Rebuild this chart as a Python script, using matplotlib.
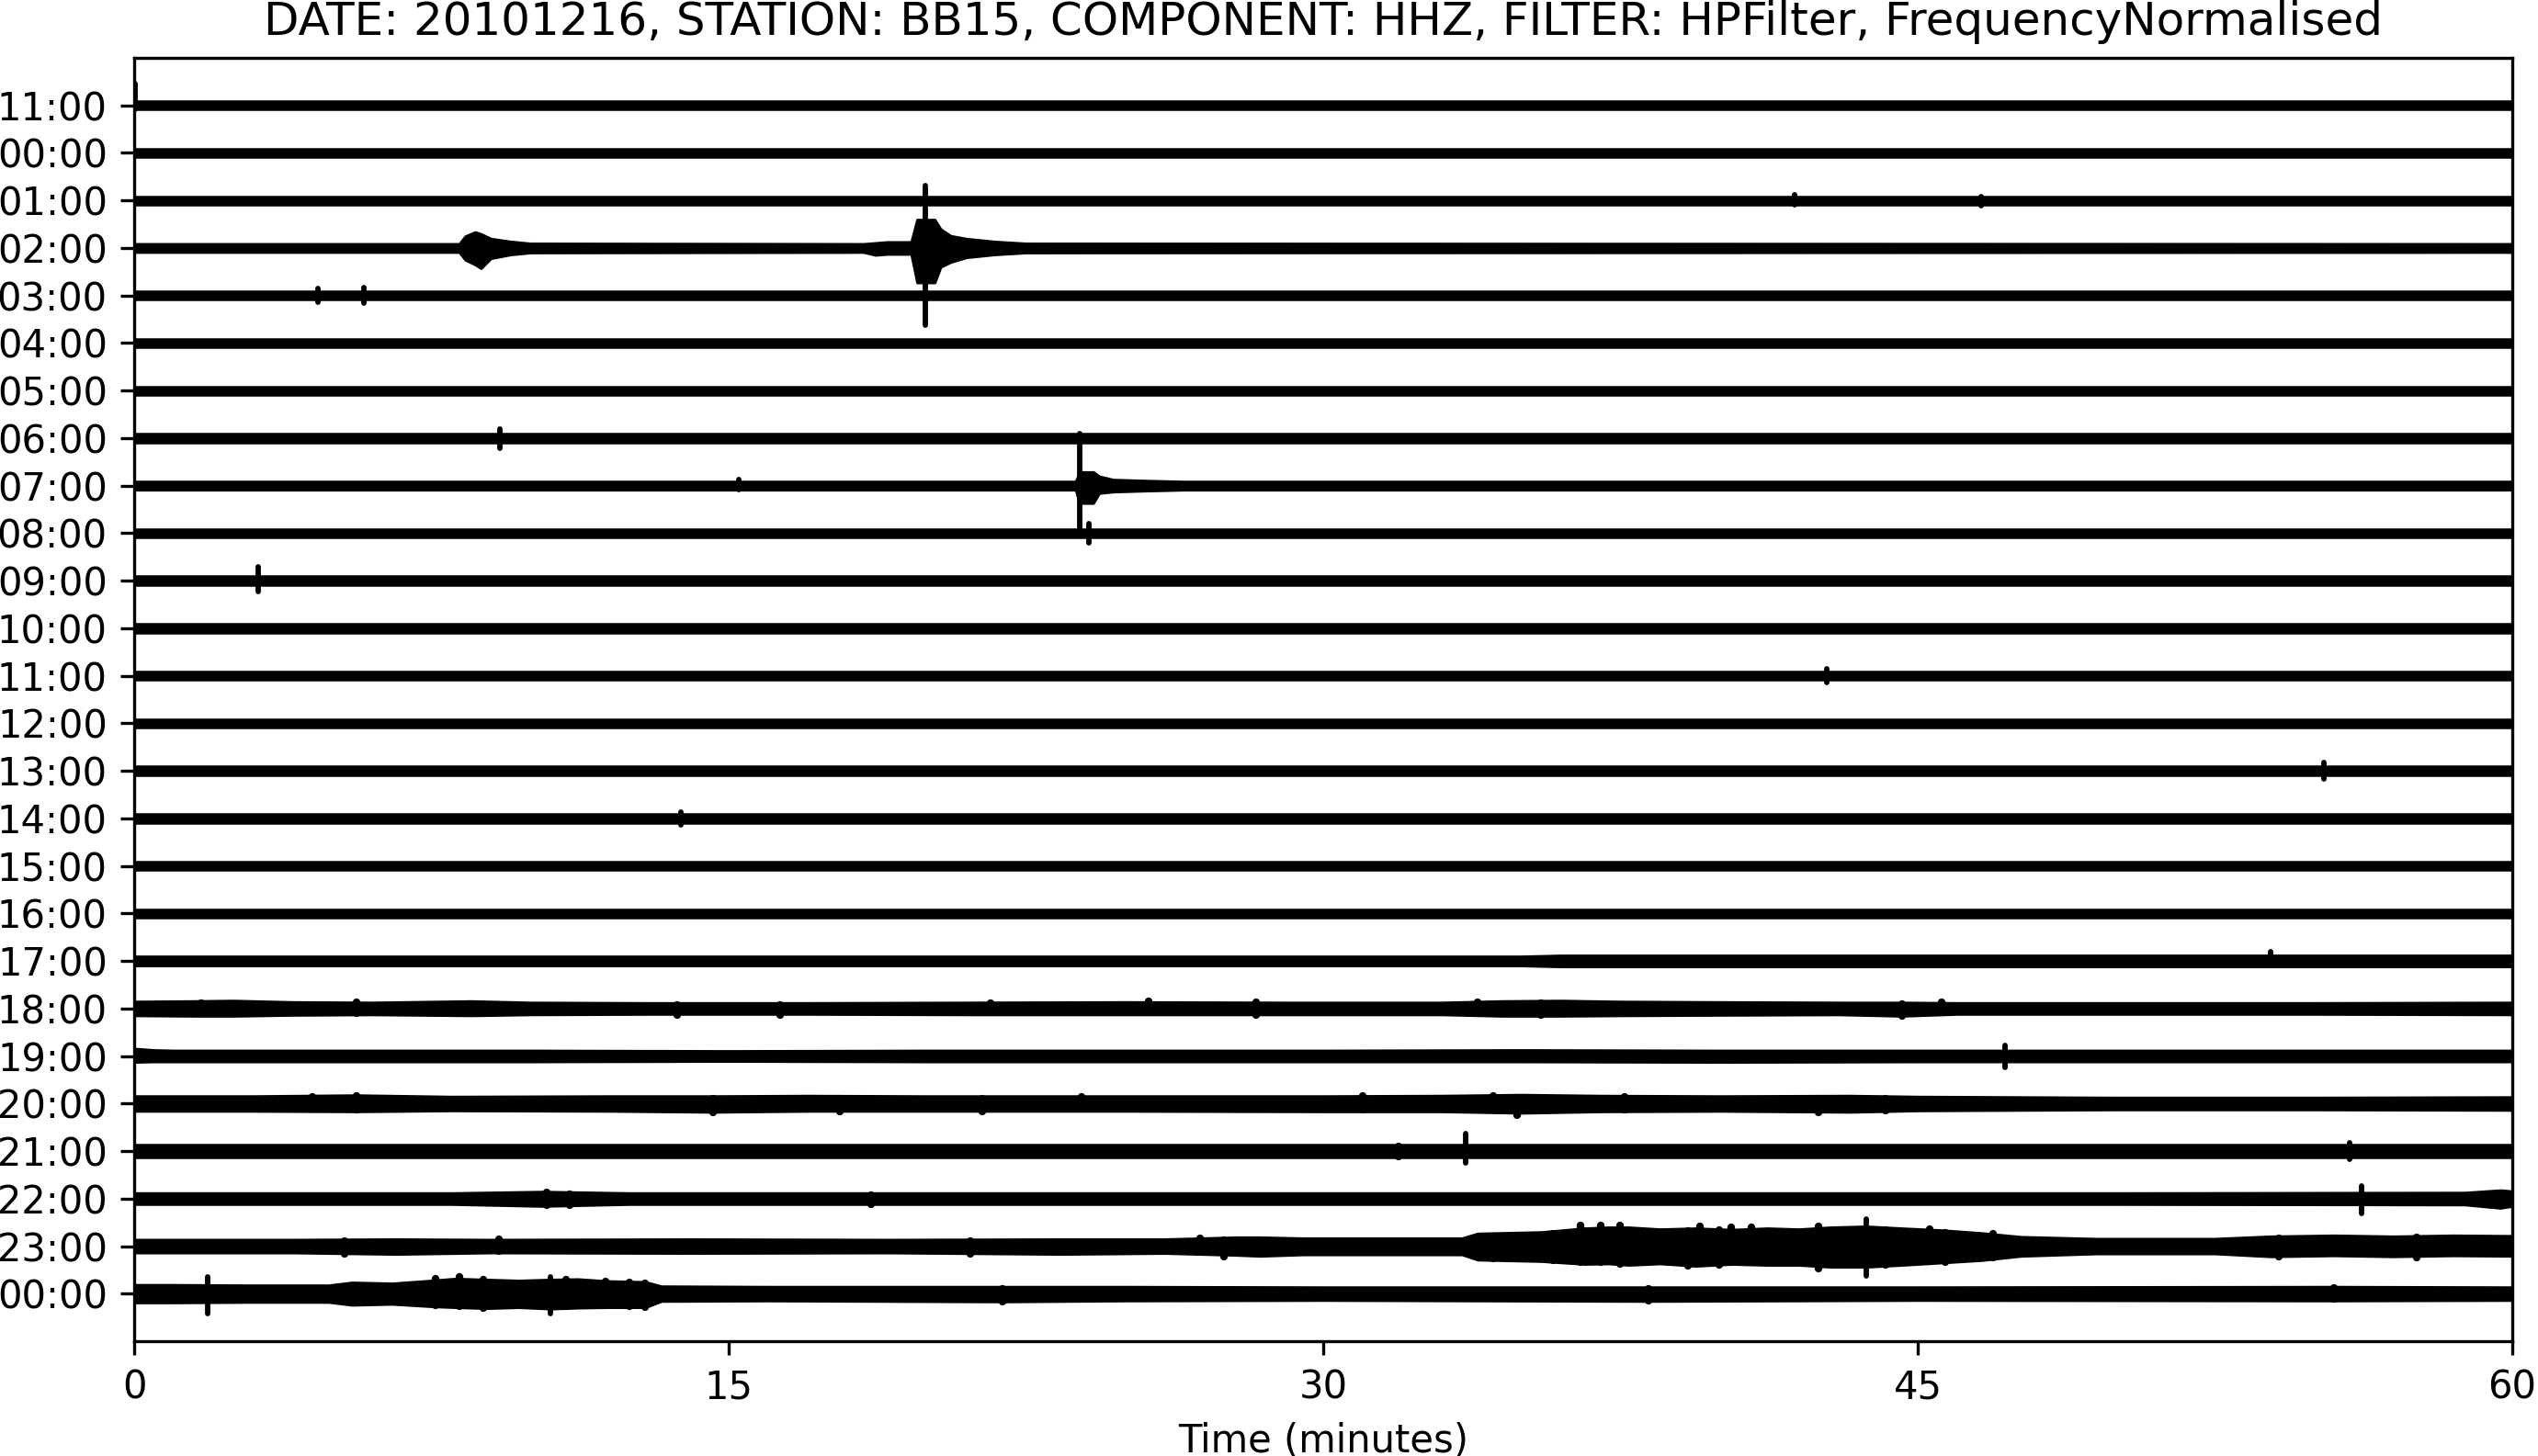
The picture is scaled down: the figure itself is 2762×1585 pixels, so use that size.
import matplotlib
matplotlib.use("Agg")
import matplotlib.pyplot as plt

title = "DATE: 20101216, STATION: BB15, COMPONENT: HHZ, FILTER: HPFilter, FrequencyNormalised"
hour_labels = ['11:00'] + ['%02d:00' % h for h in range(24)] + ['00:00']
x_ticks = [0, 15, 30, 45, 60]

# half width of a quiet trace (in row units)
quiet_hw = 0.09

# envelope knots for the rows that are not quiet: row -> (minutes, up, down)
env = {
    3: ([0, 8.2, 8.35, 8.6, 8.75, 9.0, 9.5, 10.0, 18.4, 18.7, 19.0, 19.6, 19.75, 20.2, 20.35, 20.6, 21.0, 21.7, 22.5, 60],
        [0.09, 0.09, 0.25, 0.34, 0.30, 0.20, 0.14, 0.10, 0.09, 0.11, 0.13, 0.13, 0.60, 0.60, 0.40, 0.26, 0.20, 0.14, 0.10, 0.09],
        [0.09, 0.09, 0.25, 0.35, 0.43, 0.22, 0.14, 0.10, 0.09, 0.15, 0.13, 0.13, 0.73, 0.73, 0.40, 0.30, 0.20, 0.14, 0.10, 0.09]),
    8: ([0, 23.75, 23.85, 24.2, 24.35, 24.7, 25.5, 26.5, 60],
        [0.09, 0.09, 0.29, 0.29, 0.20, 0.13, 0.11, 0.09, 0.09],
        [0.09, 0.09, 0.37, 0.37, 0.16, 0.13, 0.11, 0.09, 0.09]),
    18: ([0, 35, 36, 60],
         [0.10, 0.10, 0.12, 0.12],
         [0.10, 0.10, 0.12, 0.12]),
    19: ([0, 1.5, 2.5, 4, 6, 8.5, 10, 13, 17, 21, 25, 29, 33, 34.5, 36, 37.5, 40, 43, 44.6, 46, 50, 55, 60],
         [0.15, 0.16, 0.17, 0.14, 0.13, 0.16, 0.13, 0.12, 0.12, 0.13, 0.14, 0.13, 0.13, 0.16, 0.17, 0.15, 0.14, 0.13, 0.13, 0.12, 0.12, 0.12, 0.13],
         [0.15, 0.16, 0.16, 0.14, 0.13, 0.15, 0.13, 0.12, 0.12, 0.13, 0.13, 0.13, 0.13, 0.16, 0.16, 0.15, 0.14, 0.13, 0.16, 0.12, 0.12, 0.12, 0.13]),
    20: ([0, 0.5, 1, 5, 10, 15, 20, 25, 30, 35, 40, 45, 50, 55, 60],
         [0.16, 0.13, 0.12, 0.12, 0.12, 0.11, 0.12, 0.12, 0.12, 0.13, 0.12, 0.12, 0.12, 0.12, 0.12],
         [0.13, 0.12, 0.12, 0.12, 0.12, 0.11, 0.12, 0.12, 0.12, 0.12, 0.13, 0.12, 0.12, 0.12, 0.12]),
    21: ([0, 3, 5.6, 8, 12, 14.6, 17, 20, 25, 30, 33, 35, 37, 40, 43.3, 45, 50, 55, 60],
         [0.16, 0.16, 0.18, 0.15, 0.16, 0.16, 0.17, 0.16, 0.16, 0.16, 0.17, 0.19, 0.17, 0.16, 0.17, 0.15, 0.13, 0.13, 0.14],
         [0.16, 0.16, 0.17, 0.15, 0.16, 0.18, 0.16, 0.16, 0.16, 0.17, 0.17, 0.20, 0.17, 0.16, 0.18, 0.15, 0.13, 0.13, 0.14]),
    22: ([0, 10, 20, 30, 40, 50, 60],
         [0.13, 0.13, 0.13, 0.13, 0.13, 0.13, 0.13],
         [0.13, 0.13, 0.13, 0.13, 0.13, 0.13, 0.13]),
    23: ([0, 8, 10.3, 12.5, 20, 30, 40, 50, 58.8, 59.7, 60],
         [0.12, 0.12, 0.15, 0.12, 0.12, 0.12, 0.12, 0.12, 0.13, 0.18, 0.16],
         [0.12, 0.12, 0.16, 0.12, 0.12, 0.12, 0.12, 0.12, 0.13, 0.20, 0.16]),
    24: ([0, 4, 6.6, 9, 14, 19, 23.4, 26, 27.8, 28.4, 29.5, 33.5, 33.9, 35.5, 36.6, 37.2, 37.7, 38.5, 39.4, 40.3, 41.2, 42.0, 42.8, 43.7, 44.6, 45.6, 46.6, 47.6, 49.5, 52.5, 53.9, 55.5, 57, 58.5, 60],
         [0.14, 0.14, 0.15, 0.14, 0.15, 0.14, 0.15, 0.15, 0.19, 0.19, 0.17, 0.17, 0.27, 0.30, 0.38, 0.40, 0.40, 0.36, 0.38, 0.35, 0.38, 0.36, 0.40, 0.42, 0.38, 0.34, 0.28, 0.20, 0.16, 0.16, 0.21, 0.23, 0.21, 0.23, 0.22],
         [0.14, 0.14, 0.17, 0.14, 0.15, 0.14, 0.17, 0.15, 0.19, 0.21, 0.18, 0.18, 0.29, 0.32, 0.38, 0.37, 0.40, 0.37, 0.42, 0.38, 0.40, 0.40, 0.44, 0.44, 0.40, 0.35, 0.30, 0.21, 0.16, 0.16, 0.22, 0.20, 0.22, 0.20, 0.21]),
    25: ([0, 1, 2.9, 4.9, 5.5, 6.5, 7.5, 8.1, 8.9, 9.7, 10.5, 11.2, 11.9, 12.9, 13.3, 16, 21.9, 25, 30, 38.2, 45, 55.5, 60],
         [0.19, 0.19, 0.18, 0.18, 0.24, 0.22, 0.28, 0.32, 0.30, 0.28, 0.30, 0.31, 0.27, 0.25, 0.16, 0.15, 0.15, 0.15, 0.14, 0.14, 0.14, 0.15, 0.14],
         [0.19, 0.19, 0.18, 0.18, 0.24, 0.22, 0.27, 0.29, 0.31, 0.29, 0.32, 0.30, 0.29, 0.29, 0.16, 0.15, 0.17, 0.15, 0.14, 0.16, 0.14, 0.15, 0.14]),
}

# short impulsive arrivals: (row, minute, up, down)
spikes = [
    (0, 0.03, 0.46, 0.09),
    (2, 41.9, 0.12, 0.09),
    (2, 46.6, 0.09, 0.12),
    (3, 19.96, 1.32, 1.62),
    (4, 4.64, 0.14, 0.15),
    (4, 5.8, 0.16, 0.17),
    (7, 9.22, 0.20, 0.22),
    (8, 23.86, 1.09, 0.91),
    (8, 15.26, 0.13, 0.09),
    (9, 24.09, 0.21, 0.20),
    (10, 3.12, 0.29, 0.23),
    (12, 42.7, 0.14, 0.14),
    (14, 55.25, 0.17, 0.18),
    (15, 13.8, 0.13, 0.13),
    (18, 53.9, 0.20, 0.10),
    (20, 47.2, 0.23, 0.25),
    (22, 33.6, 0.37, 0.26),
    (22, 55.9, 0.17, 0.17),
    (23, 56.2, 0.26, 0.32),
    (24, 43.7, 0.57, 0.63),
    (25, 1.86, 0.35, 0.42),
    (25, 10.5, 0.35, 0.42),
]

# wider wiggles sticking out of the noisy traces: (row, minute, up, down)
bumps = [
    (19, 1.7, 0.16, 0.14), (19, 5.6, 0.18, 0.14), (19, 13.7, 0.12, 0.17), (19, 16.3, 0.12, 0.17),
    (19, 21.6, 0.16, 0.12), (19, 25.6, 0.19, 0.13), (19, 28.3, 0.18, 0.18), (19, 33.9, 0.17, 0.14),
    (19, 35.5, 0.15, 0.18), (19, 44.6, 0.13, 0.19), (19, 45.6, 0.17, 0.13),
    (21, 4.5, 0.18, 0.15), (21, 5.6, 0.21, 0.16), (21, 14.6, 0.15, 0.22), (21, 17.8, 0.15, 0.20),
    (21, 21.4, 0.15, 0.20), (21, 23.9, 0.19, 0.15), (21, 31.0, 0.20, 0.16), (21, 34.3, 0.20, 0.16),
    (21, 34.9, 0.17, 0.28), (21, 37.6, 0.18, 0.16), (21, 42.5, 0.15, 0.22), (21, 44.2, 0.15, 0.19),
    (22, 31.9, 0.13, 0.16),
    (23, 10.4, 0.17, 0.17), (23, 11.0, 0.13, 0.18), (23, 18.6, 0.12, 0.16),
    (24, 5.3, 0.14, 0.20), (24, 9.2, 0.18, 0.14), (24, 21.1, 0.14, 0.20), (24, 26.9, 0.20, 0.15),
    (24, 27.5, 0.17, 0.27), (24, 34.3, 0.25, 0.30), (24, 35.8, 0.30, 0.33), (24, 36.5, 0.48, 0.38),
    (24, 37.0, 0.48, 0.38), (24, 37.5, 0.47, 0.42), (24, 39.2, 0.36, 0.45), (24, 39.5, 0.45, 0.40),
    (24, 40.0, 0.38, 0.44), (24, 40.3, 0.44, 0.38), (24, 40.8, 0.43, 0.38), (24, 42.5, 0.45, 0.52),
    (24, 44.2, 0.38, 0.43), (24, 45.3, 0.40, 0.35), (24, 45.7, 0.33, 0.37), (24, 46.9, 0.30, 0.28),
    (24, 54.1, 0.20, 0.27), (24, 57.6, 0.22, 0.28),
    (25, 7.6, 0.35, 0.28), (25, 8.2, 0.40, 0.30), (25, 8.8, 0.33, 0.35), (25, 10.9, 0.33, 0.30),
    (25, 11.9, 0.30, 0.28), (25, 12.5, 0.28, 0.30), (25, 12.9, 0.25, 0.33), (25, 21.9, 0.15, 0.20),
    (25, 38.2, 0.14, 0.18), (25, 55.5, 0.16, 0.15),
]

fig = plt.figure(figsize=(2762 / 300, 1585 / 300), dpi=300)
ax = fig.add_axes([146 / 2762, 125 / 1585, (2734 - 146) / 2762, (1460 - 63) / 1585])

for row in range(len(hour_labels)):
    if row in env:
        t, up, dn = env[row]
    else:
        t, up, dn = [0, 60], [quiet_hw, quiet_hw], [quiet_hw, quiet_hw]
    lo = [row + d for d in dn]
    hi = [row - u for u in up]
    ax.fill_between(t, hi, lo, color='k', lw=0.6, edgecolor='k')

for row, tm, up, dn in bumps:
    ax.plot([tm, tm], [row - up + 0.04, row + dn - 0.04], color='k', lw=2.0, solid_capstyle='round')

for row, tm, up, dn in spikes:
    ax.plot([tm, tm], [row - up, row + dn], color='k', lw=1.4, solid_capstyle='round')

ax.set_xlim(0, 60)
ax.set_ylim(len(hour_labels), -1)
ax.set_xticks(x_ticks)
ax.set_yticks(range(len(hour_labels)))
ax.set_yticklabels(hour_labels)
ax.set_xlabel("Time (minutes)")
ax.set_title(title)

fig.savefig("out.png", dpi=300)
